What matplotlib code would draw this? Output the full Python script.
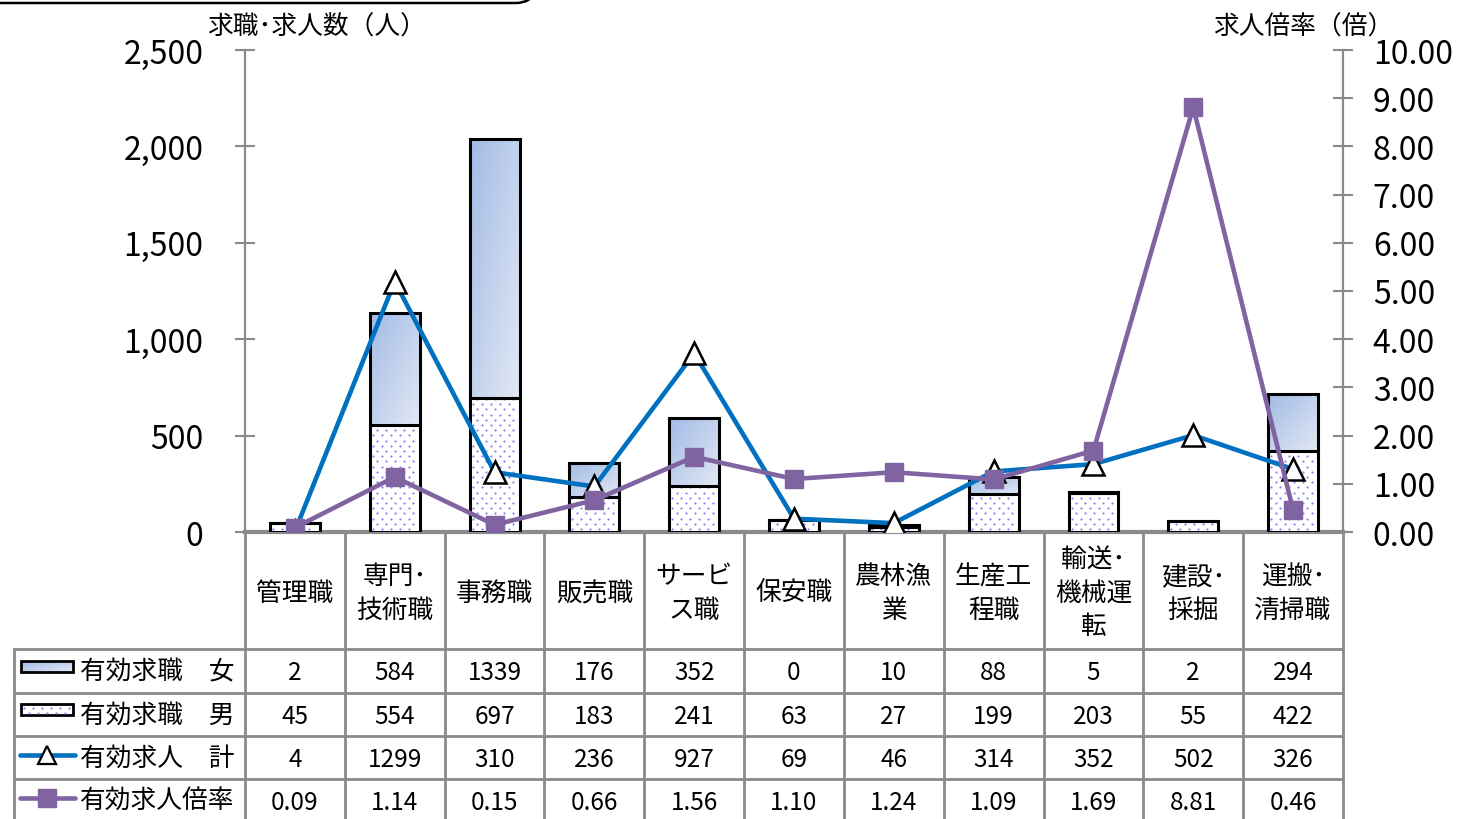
import numpy as np
import matplotlib
matplotlib.use("Agg")
import matplotlib.pyplot as plt
import matplotlib.transforms as mtransforms
from matplotlib.patches import Rectangle, FancyBboxPatch
from matplotlib.lines import Line2D
from matplotlib.colors import LinearSegmentedColormap
from matplotlib.ticker import FuncFormatter

plt.rcParams['font.family'] = ['Noto Sans CJK JP', 'DejaVu Sans']

# ---- data -------------------------------------------------------------
categories = ["管理職", "専門･\n技術職", "事務職", "販売職", "サービ\nス職", "保安職",
              "農林漁\n業", "生産工\n程職", "輸送･\n機械運\n転", "建設･\n採掘", "運搬･\n清掃職"]
seekers_female = [2, 584, 1339, 176, 352, 0, 10, 88, 5, 2, 294]
seekers_male = [45, 554, 697, 183, 241, 63, 27, 199, 203, 55, 422]
openings_total = [4, 1299, 310, 236, 927, 69, 46, 314, 352, 502, 326]
opening_ratio = [0.09, 1.14, 0.15, 0.66, 1.56, 1.10, 1.24, 1.09, 1.69, 8.81, 0.46]
row_labels = ["有効求職　女", "有効求職　男", "有効求人　計", "有効求人倍率"]
left_ticks = [0, 500, 1000, 1500, 2000, 2500]
right_ticks = [0, 1, 2, 3, 4, 5, 6, 7, 8, 9, 10]
left_title = "求職･求人数（人）"
right_title = "求人倍率（倍）"

# ---- styling ----------------------------------------------------------
W, H = 1459, 820
GRAY = '#8a8a8a'
BLUE = '#0070C0'
PURPLE = '#8064A2'
DOT = '#8080f4'
grad_cmap = LinearSegmentedColormap.from_list('fem', ['#a2bbe6', '#e2e8f4'])
grad = np.add.outer(np.linspace(0, 1, 64), np.linspace(0, 1, 64)) / 2.0


def fx(px):
    return px / W


def fy(py):
    return 1 - py / H


def dot_texture(x0, x1, y0, y1, dx=9.0, dy=5.2, margin=3.0):
    """Staggered dot positions (display pixels) filling a box."""
    xs, ys = [], []
    row = 0
    y = y0 + margin
    while y <= y1 - 1:
        shift = 0 if row % 2 == 0 else dx / 2
        xx = x0 + margin + shift
        while xx <= x1 - 2:
            xs.append(xx)
            ys.append(y)
            xx += dx
        y += dy
        row += 1
    return np.array(xs), np.array(ys)


fig = plt.figure(figsize=(W / 100, H / 100), dpi=100)

# pixel-space overlay for the frame and the legend column of the table
over = fig.add_axes([0, 0, 1, 1], zorder=-1)
over.set_xlim(0, W)
over.set_ylim(H, 0)
over.axis('off')

ax = fig.add_axes([fx(245), fy(533), fx(1343) - fx(245), fy(51) - fy(533)])
ax2 = ax.twinx()

x = np.arange(len(categories))
bw = 0.5

ax.set_xlim(-0.5, len(categories) - 0.5)
ax.set_ylim(0, 2500)
ax2.set_ylim(0, 10)

# male seekers: white bars with a fine dotted texture
male_bars = ax.bar(x, seekers_male, bw, color='white', edgecolor='black',
                   linewidth=2.2, zorder=3)
to_data = ax.transData.inverted()
for rect in male_bars:
    (px0, py0), (px1, py1) = ax.transData.transform(
        [(rect.get_x(), rect.get_y()), (rect.get_x() + rect.get_width(), rect.get_y() + rect.get_height())])
    dxs, dys = dot_texture(px0, px1, py0, py1)
    if len(dxs) == 0:
        continue
    pts = to_data.transform(np.column_stack([dxs, dys]))
    ax.scatter(pts[:, 0], pts[:, 1], s=2.4, color=DOT, linewidths=0, zorder=3.2)

# female seekers: gradient fill stacked on top
fem_bars = ax.bar(x, seekers_female, bw, bottom=seekers_male, color='none',
                  edgecolor='black', linewidth=2.2, zorder=3.5)
for rect in fem_bars:
    if rect.get_height() <= 0:
        continue
    x0, y0 = rect.get_x(), rect.get_y()
    im = ax.imshow(grad, cmap=grad_cmap, origin='upper', aspect='auto',
                   extent=(x0, x0 + rect.get_width(), y0, y0 + rect.get_height()),
                   interpolation='bilinear', zorder=3.3)
    im.set_clip_path(rect)

ax.plot(x, openings_total, color=BLUE, lw=3.3, marker='^', ms=16,
        mfc='white', mec='black', mew=1.8, zorder=5)
ax2.plot(x, opening_ratio, color=PURPLE, lw=3.3, marker='s', ms=13,
         mfc=PURPLE, mec=PURPLE, zorder=5)

ax.set_xlim(-0.5, len(categories) - 0.5)
ax.set_ylim(0, 2500)
ax2.set_ylim(0, 10)
ax.set_yticks(left_ticks)
ax2.set_yticks(right_ticks)
ax.yaxis.set_major_formatter(FuncFormatter(lambda v, p: f"{v:,.0f}"))
ax2.yaxis.set_major_formatter(FuncFormatter(lambda v, p: f"{v:.2f}"))
ax.set_xticks([])

for s in ['top', 'right']:
    ax.spines[s].set_visible(False)
for s in ['top', 'left', 'bottom']:
    ax2.spines[s].set_visible(False)
ax.spines['left'].set_color(GRAY)
ax.spines['left'].set_linewidth(1.6)
ax.spines['bottom'].set_color(GRAY)
ax.spines['bottom'].set_linewidth(3)
ax2.spines['right'].set_color(GRAY)
ax2.spines['right'].set_linewidth(1.6)

ax.tick_params(axis='y', direction='inout', length=14, width=1.5, color=GRAY,
               labelsize=23, pad=23)
ax2.tick_params(axis='y', direction='inout', length=14, width=1.5, color=GRAY,
                labelsize=23, pad=14.5)

fig.text(fx(316), fy(28), left_title, ha='center', va='center', fontsize=18.5)
fig.text(fx(1303), fy(28), right_title, ha='center', va='center', fontsize=18.5)

# ---- data table under the chart --------------------------------------
trans = mtransforms.blended_transform_factory(ax.transData, fig.transFigure)
tbl_lw = 2
row_edges = [650, 693.5, 737, 780, 823]
for k in range(len(categories) + 1):
    fig.add_artist(Line2D([k - 0.5, k - 0.5], [fy(533), fy(830)], transform=trans,
                          color=GRAY, lw=tbl_lw))
for yy in row_edges[:-1]:
    over.plot([14, 1343], [yy, yy], color=GRAY, lw=tbl_lw, solid_capstyle='butt')
over.plot([14, 14], [650, 830], color=GRAY, lw=tbl_lw)

for i, name in enumerate(categories):
    fig.text(i, fy(594), name, transform=trans, ha='center', va='center',
             fontsize=18.5, linespacing=1.36)

rows = [
    [str(v) for v in seekers_female],
    [str(v) for v in seekers_male],
    [str(v) for v in openings_total],
    [f"{v:.2f}" for v in opening_ratio],
]
for r, vals in enumerate(rows):
    cy = (row_edges[r] + row_edges[r + 1]) / 2
    for i, v in enumerate(vals):
        fig.text(i, fy(cy + 1.5), v, transform=trans, ha='center', va='center', fontsize=17.5)
    over.text(80, cy + 0.5, row_labels[r], ha='left', va='center', fontsize=18.5)

# legend keys in the first table column
fkey = Rectangle((21, 662), 52, 11, facecolor='none', edgecolor='black', lw=2, zorder=3)
over.add_patch(fkey)
kim = over.imshow(grad, cmap=grad_cmap, origin='upper', aspect='auto',
                  extent=(21, 73, 673, 662), interpolation='bilinear', zorder=2)
kim.set_clip_path(fkey)
over.add_patch(Rectangle((21, 705), 52, 11, facecolor='white', edgecolor='black',
                         lw=2, zorder=2))
kx, ky = dot_texture(21, 73, 706, 716, dx=9, dy=5, margin=3)
over.scatter(kx, ky, s=2.4, color=DOT, linewidths=0, zorder=3)
over.plot([20, 75], [756, 756], color=BLUE, lw=3.3, solid_capstyle='round')
over.plot([47], [756], marker='^', ms=13, mfc='white', mec='black', mew=1.6)
over.plot([20, 75], [799, 799], color=PURPLE, lw=3.3, solid_capstyle='round')
over.plot([47], [799], marker='s', ms=13, mfc=PURPLE, mec=PURPLE)

# frame edge of the heading box above the chart
over.add_patch(FancyBboxPatch((-40, -80), 586, 84, boxstyle='round,pad=0,rounding_size=30',
                              fill=False, edgecolor='black', lw=1.8))
over.set_xlim(0, W)
over.set_ylim(H, 0)

fig.savefig('out.png', dpi=100)
